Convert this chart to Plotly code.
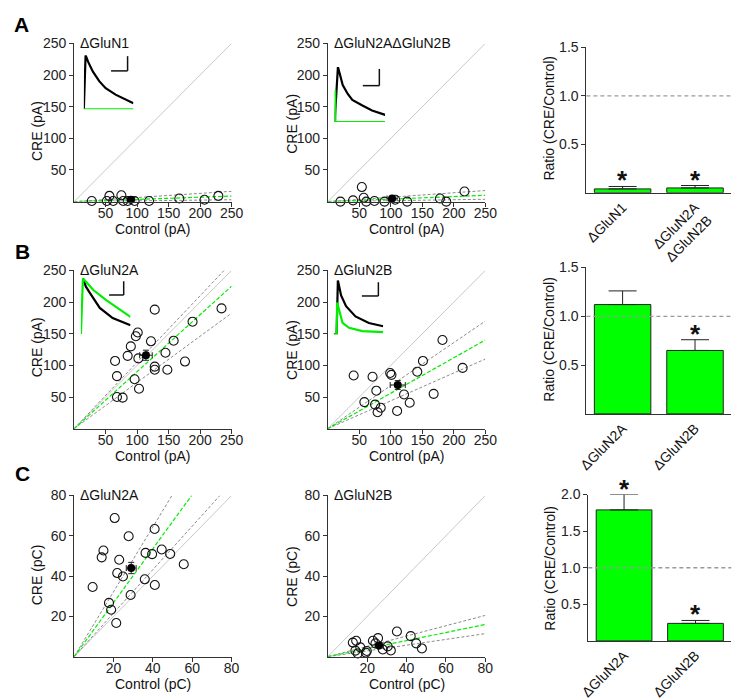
import plotly.graph_objects as go

W, H = 751, 700
FONT = "Arial, 'Liberation Sans', sans-serif"
GREEN = "#00ee00"
BARGREEN = "#00ff00"

# ---------------- DATA ----------------
# Row A : peak amplitude (pA)
a1_title = "ΔGluN1"
a1_ctrl = [28, 56, 75, 52, 62, 78, 85, 96, 119, 167, 207, 229]
a1_cre = [1, 9, 10, 1, 1, 1, 1, 1, 1, 5, 3, 9]
a1_mean = [90, 3]
a1_sem = [6, 1]
a1_fit = 0.035
a1_ci = [0.012, 0.065]

a2_title = "ΔGluN2AΔGluN2B"
a2_ctrl = [20, 40, 54, 57, 61, 74, 90, 107, 126, 178, 188, 217]
a2_cre = [0, 2, 23, 6, 0, 1, 0, 3, 0, 5, 0, 16]
a2_mean = [102, 5]
a2_sem = [8, 1.5]
a2_fit = 0.04
a2_ci = [0.015, 0.07]

# Row B : peak amplitude (pA)
b1_title = "ΔGluN2A"
b1_ctrl = [90, 101, 98, 128, 122, 85, 65, 68, 68, 77, 102, 96, 103, 128, 128, 145, 158, 148, 176, 188, 234]
b1_cre = [130, 152, 146, 188, 138, 115, 107, 83, 50, 49, 111, 78, 63, 98, 93, 120, 139, 93, 106, 169, 190]
b1_mean = [114, 116]
b1_sem = [10, 8]
b1_fit = 0.9
b1_ci = [0.73, 1.05]

b2_title = "ΔGluN2B"
b2_ctrl = [41, 71, 77, 58, 75, 79, 84, 99, 101, 121, 110, 130, 142, 151, 168, 182, 214]
b2_cre = [84, 82, 60, 42, 38, 26, 33, 88, 85, 54, 28, 41, 90, 107, 55, 140, 96]
b2_mean = [111, 69]
b2_sem = [12, 7]
b2_fit = 0.56
b2_ci = [0.44, 0.68]

# Row C : charge (pC)
c1_title = "ΔGluN2A"
c1_ctrl = [20.6, 27.7, 40.9, 14.9, 14.0, 22.9, 9.4, 21.9, 24.8, 36.3, 39.6, 44.5, 48.8, 55.7, 35.9, 41.0, 28.7, 17.7, 18.8, 21.4]
c1_cre = [68.8, 59.8, 63.4, 52.7, 49.3, 48.1, 34.6, 41.5, 39.8, 51.5, 50.9, 53.2, 51.0, 45.9, 38.4, 35.6, 30.6, 26.7, 23.3, 16.7]
c1_mean = [29, 44]
c1_sem = [2.5, 2.8]
c1_fit = 1.34
c1_ci = [1.08, 1.61]

c2_title = "ΔGluN2B"
c2_ctrl = [12.7, 14.4, 14.0, 15.2, 16.5, 19.3, 19.8, 22.9, 25.5, 27.9, 30.4, 32.0, 35.1, 42.1, 44.9, 47.8, 24.2]
c2_cre = [7.0, 7.9, 3.0, 1.6, 4.6, 2.0, 2.8, 7.9, 9.2, 3.6, 5.1, 3.1, 12.5, 10.2, 6.6, 4.1, 6.6]
c2_mean = [26, 5.6]
c2_sem = [2, 1]
c2_fit = 0.2
c2_ci = [0.143, 0.256]

# Ratio bars (CRE/Control)
barA_labels = ["ΔGluN1", "ΔGluN2A<br>ΔGluN2B"]
barA_mean = [0.04, 0.05]
barA_sem = [0.025, 0.025]
barA_sig = [True, True]

barB_labels = ["ΔGluN2A", "ΔGluN2B"]
barB_mean = [1.12, 0.65]
barB_sem = [0.14, 0.11]
barB_sig = [False, True]

barC_labels = ["ΔGluN2A", "ΔGluN2B"]
barC_mean = [1.79, 0.24]
barC_sem = [0.21, 0.04]
barC_sig = [True, True]

# Inset EPSC traces (normalised time, normalised amplitude)
insA1_t_black = [0, 0.035, 0.085, 0.18, 0.31, 0.44, 0.64, 0.84, 1.0]
insA1_black = [0, 1.0, 0.88, 0.70, 0.52, 0.39, 0.27, 0.18, 0.11]
insA1_t_green = [0, 1.0]
insA1_green = [0, 0]

insA2_t_black = [0, 0.065, 0.10, 0.16, 0.26, 0.35, 0.55, 0.74, 1.0]
insA2_black = [0, 1.0, 0.88, 0.67, 0.51, 0.40, 0.30, 0.21, 0.13]
insA2_t_green = [0, 0.01, 0.015, 1.0]
insA2_green = [0, 0.58, 0, 0]

insB1_t_black = [0.04, 0.10, 0.18, 0.38, 0.64, 1.0]
insB1_black = [1.0, 0.85, 0.74, 0.47, 0.29, 0.16]
insB1_t_green = [0, 0.04, 0.12, 0.25, 0.51, 0.78, 1.0]
insB1_green = [0, 1.0, 0.92, 0.79, 0.61, 0.44, 0.31]

insB2_t_black = [0, 0.06, 0.085, 0.15, 0.25, 0.44, 0.71, 1.0]
insB2_black = [0, 0, 1.0, 0.72, 0.52, 0.33, 0.21, 0.15]
insB2_t_green = [0, 0.06, 0.07, 0.12, 0.18, 0.31, 0.58, 1.0]
insB2_green = [0, 0, 0.59, 0.40, 0.21, 0.12, 0.06, 0.04]


# ---------------- HELPERS ----------------
def dx(p0, p1):
    return [p0 / W, p1 / W]


def dy(top, bottom):
    return [1 - bottom / H, 1 - top / H]


fig = go.Figure()
layout = dict(
    width=W, height=H, autosize=False,
    margin=dict(l=0, r=0, t=0, b=0),
    paper_bgcolor="white", plot_bgcolor="white",
    showlegend=False,
    font=dict(family=FONT, size=14, color="#222"),
    annotations=[], shapes=[],
)

AX_LINE = "#333"
TICKFONT = dict(size=14, color="#222")
LABFONT = dict(size=14, color="#111")


def scatter_panel(n, xpx, ypx, xmax, ticks, ctrl, cre, mean, sem, fit, ci, title, unit):
    xa = "xaxis" if n == 1 else f"xaxis{n}"
    ya = "yaxis" if n == 1 else f"yaxis{n}"
    xr = "x" if n == 1 else f"x{n}"
    yr = "y" if n == 1 else f"y{n}"
    common = dict(showline=True, linecolor=AX_LINE, linewidth=1, ticks="outside",
                  ticklen=4, tickcolor=AX_LINE, showgrid=False, zeroline=False,
                  range=[0, xmax], tickvals=ticks, tickfont=TICKFONT,
                  fixedrange=True)
    layout[xa] = dict(common, domain=dx(*xpx), anchor=yr, ticklabelstandoff=-5)
    layout[ya] = dict(common, domain=dy(*ypx), anchor=xr)
    # identity
    fig.add_trace(go.Scatter(x=[0, xmax], y=[0, xmax], mode="lines",
                             line=dict(color="#c8c8c8", width=1), xaxis=xr, yaxis=yr,
                             hoverinfo="skip"))
    for s in ci:
        xe = min(xmax, xmax / s)
        fig.add_trace(go.Scatter(x=[0, xe], y=[0, s * xe], mode="lines",
                                 line=dict(color="#8a8a8a", width=1, dash="3px,2px"),
                                 xaxis=xr, yaxis=yr, hoverinfo="skip"))
    xe = min(xmax, xmax / fit)
    fig.add_trace(go.Scatter(x=[0, xe], y=[0, fit * xe], mode="lines",
                             line=dict(color=GREEN, width=1.2, dash="4px,2px"),
                             xaxis=xr, yaxis=yr, hoverinfo="skip"))
    fig.add_trace(go.Scatter(x=ctrl, y=cre, mode="markers", cliponaxis=False,
                             marker=dict(symbol="circle-open", size=9,
                                         color="#111", line=dict(width=1.1)),
                             xaxis=xr, yaxis=yr))
    fig.add_trace(go.Scatter(x=[mean[0]], y=[mean[1]], mode="markers", cliponaxis=False,
                             marker=dict(symbol="circle", size=8, color="black"),
                             error_x=dict(type="data", array=[sem[0]], color="#222",
                                          thickness=1, width=3),
                             error_y=dict(type="data", array=[sem[1]], color="#222",
                                          thickness=1, width=3),
                             xaxis=xr, yaxis=yr))
    # title inside panel
    layout["annotations"].append(dict(
        text=title, x=(xpx[0] + 4) / W, y=1 - (ypx[0]) / H, xref="paper", yref="paper",
        xanchor="left", yanchor="middle", showarrow=False,
        font=dict(size=14, color="#111")))
    # axis titles
    layout["annotations"].append(dict(
        text=f"Control ({unit})", x=(xpx[0] + xpx[1]) / 2 / W, y=1 - (ypx[1] + 28) / H,
        xref="paper", yref="paper", xanchor="center", yanchor="middle",
        showarrow=False, font=LABFONT))


def ylabel(text, xpx, ypx):
    layout["annotations"].append(dict(
        text=text, x=xpx / W, y=1 - ypx / H, xref="paper", yref="paper",
        xanchor="center", yanchor="middle", textangle=-90, showarrow=False,
        font=LABFONT))


def bar_panel(n, xpx, ypx, ymax, ticks, labels, mean, sem, sig):
    xa, ya = f"xaxis{n}", f"yaxis{n}"
    xr, yr = f"x{n}", f"y{n}"
    layout[xa] = dict(domain=dx(*xpx), anchor=yr, type="category", range=[-0.5, 1.5],
                      showline=True, linecolor=AX_LINE, linewidth=1, ticks="",
                      tickangle=-45, tickfont=dict(size=14, color="#111"),
                      showgrid=False, zeroline=False, fixedrange=True)
    layout[ya] = dict(domain=dy(*ypx), anchor=xr, range=[0, ymax], tickvals=ticks,
                      ticktext=[f"{t:.1f}" for t in ticks],
                      showline=True, linecolor=AX_LINE, linewidth=1, ticks="outside",
                      ticklen=4, tickcolor=AX_LINE, tickfont=TICKFONT,
                      showgrid=False, zeroline=False, fixedrange=True)
    fig.add_trace(go.Bar(x=labels, y=mean, width=0.78,
                         marker=dict(color=BARGREEN, line=dict(color="#222", width=1)),
                         error_y=dict(type="data", array=sem, arrayminus=[0] * len(sem),
                                      symmetric=False, color="#222", thickness=1, width=14),
                         xaxis=xr, yaxis=yr))
    layout["shapes"].append(dict(type="line", xref=f"{xr} domain", yref=yr,
                                 x0=0, x1=1, y0=1, y1=1,
                                 line=dict(color="#9a9a9a", width=1.3, dash="4px,3px")))
    for lab, m, s, g in zip(labels, mean, sem, sig):
        if g:
            layout["annotations"].append(dict(
                text="<b>*</b>", x=lab, y=m + s, xref=xr, yref=yr, xanchor="center",
                yanchor="middle", yshift=6, showarrow=False,
                font=dict(size=26, color="#111")))


def inset(n, xpx, ypx, tb, yb, tg, yg, bar, green_on_top=True):
    xa, ya = f"xaxis{n}", f"yaxis{n}"
    xr, yr = f"x{n}", f"y{n}"
    layout[xa] = dict(domain=dx(*xpx), anchor=yr, range=[0, 1], visible=False, fixedrange=True)
    layout[ya] = dict(domain=dy(*ypx), anchor=xr, range=[0, 1], visible=False, fixedrange=True)
    tr_b = go.Scatter(x=tb, y=yb, mode="lines", line=dict(color="black", width=2.2),
                      cliponaxis=False, xaxis=xr, yaxis=yr, hoverinfo="skip")
    tr_g = go.Scatter(x=tg, y=yg, mode="lines", line=dict(color=GREEN, width=2.2),
                      cliponaxis=False, xaxis=xr, yaxis=yr, hoverinfo="skip")
    if green_on_top:
        fig.add_trace(tr_b)
        fig.add_trace(tr_g)
    else:
        fig.add_trace(tr_g)
        fig.add_trace(tr_b)
    vx, vy0, vy1, hx0 = bar
    layout["shapes"].append(dict(type="line", xref="paper", yref="paper",
                                 x0=vx / W, x1=vx / W, y0=1 - vy0 / H, y1=1 - vy1 / H,
                                 line=dict(color="#111", width=1.5)))
    layout["shapes"].append(dict(type="line", xref="paper", yref="paper",
                                 x0=hx0 / W, x1=vx / W, y0=1 - vy1 / H, y1=1 - vy1 / H,
                                 line=dict(color="#111", width=1.5)))


# ---------------- PANELS ----------------
LX = (67, 229)
MX = (328, 490)
RA, RB, RC = (36, 197), (267, 428), (496, 660)
tk250 = [50, 100, 150, 200, 250]
tk80 = [20, 40, 60, 80]

scatter_panel(1, LX, RA, 250, tk250, a1_ctrl, a1_cre, a1_mean, a1_sem, a1_fit, a1_ci, a1_title, "pA")
scatter_panel(2, MX, RA, 250, tk250, a2_ctrl, a2_cre, a2_mean, a2_sem, a2_fit, a2_ci, a2_title, "pA")
bar_panel(3, (594, 743), (40, 188), 1.5, [0.5, 1.0, 1.5], barA_labels, barA_mean, barA_sem, barA_sig)
scatter_panel(4, LX, RB, 250, tk250, b1_ctrl, b1_cre, b1_mean, b1_sem, b1_fit, b1_ci, b1_title, "pA")
scatter_panel(5, MX, RB, 250, tk250, b2_ctrl, b2_cre, b2_mean, b2_sem, b2_fit, b2_ci, b2_title, "pA")
bar_panel(6, (594, 743), (264, 413), 1.5, [0.5, 1.0, 1.5], barB_labels, barB_mean, barB_sem, barB_sig)
scatter_panel(7, LX, RC, 80, tk80, c1_ctrl, c1_cre, c1_mean, c1_sem, c1_fit, c1_ci, c1_title, "pC")
scatter_panel(8, MX, RC, 80, tk80, c2_ctrl, c2_cre, c2_mean, c2_sem, c2_fit, c2_ci, c2_title, "pC")
bar_panel(9, (596, 743), (495, 644), 2.0, [0.5, 1.0, 1.5, 2.0], barC_labels, barC_mean, barC_sem, barC_sig)

inset(10, (77, 128), (48, 103), insA1_t_black, insA1_black, insA1_t_green, insA1_green, (122, 49, 64, 105))
inset(11, (335, 387), (60, 116), insA2_t_black, insA2_black, insA2_t_green, insA2_green, (381, 62, 79, 364))
inset(12, (74, 125), (275, 332), insB1_t_black, insB1_black, insB1_t_green, insB1_green, (118, 278, 292, 103))
inset(13, (334, 385), (277, 332), insB2_t_black, insB2_black, insB2_t_green, insB2_green, (380, 279, 293, 363))

# y-axis titles
ylabel("CRE (pA)", 29, 125)
ylabel("CRE (pA)", 291, 118)
ylabel("CRE (pA)", 29, 345)
ylabel("CRE (pA)", 291, 348)
ylabel("CRE (pC)", 29, 577)
ylabel("CRE (pC)", 291, 578)
ylabel("Ratio (CRE/Control)", 556, 112)
ylabel("Ratio (CRE/Control)", 556, 337)
ylabel("Ratio (CRE/Control)", 557, 570)

# panel letters
for letter, px, py in [("A", 13, 17), ("B", 14, 248), ("C", 14, 474)]:
    layout["annotations"].append(dict(
        text=f"<b>{letter}</b>", x=px / W, y=1 - py / H, xref="paper", yref="paper",
        xanchor="center", yanchor="middle", showarrow=False,
        font=dict(size=21, color="black")))

fig.update_layout(**layout)
fig.write_html("out.html", config={"displayModeBar": False},
               post_script="document.body.style.margin='0';document.body.style.padding='0';")
